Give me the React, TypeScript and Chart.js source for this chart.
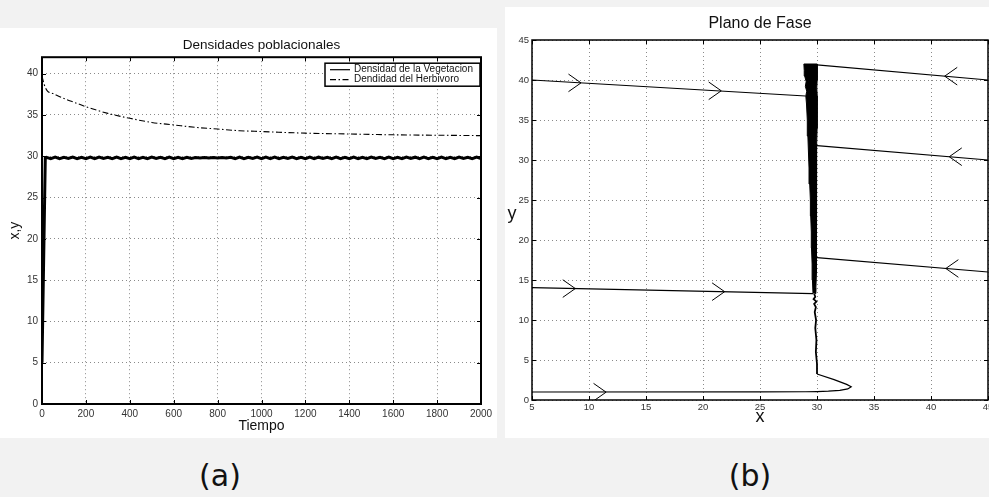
import React, { useEffect, useRef } from "react";
import { Chart, registerables } from "chart.js";

Chart.register(...registerables);

const FONT = "'Liberation Sans', Arial, sans-serif";

// ---------- Chart (a): Densidades poblacionales ----------
const timeTicks = [0, 200, 400, 600, 800, 1000, 1200, 1400, 1600, 1800, 2000];
const densityTicks = [0, 5, 10, 15, 20, 25, 30, 35, 40];

const herbTimes = [0, 10, 25, 50, 100, 150, 200, 300, 400, 500, 600, 700, 800, 900, 1000, 1200, 1400, 1600, 1800, 2000];
const herbValues = [39.7, 38.7, 37.9, 37.6, 37.0, 36.5, 36.0, 35.2, 34.6, 34.1, 33.8, 33.5, 33.3, 33.1, 33.0, 32.8, 32.7, 32.6, 32.55, 32.5];

const vegTimes = [
  0, 15,
  20, 40, 60, 80, 100, 120, 140, 160, 180, 200,
  220, 240, 260, 280, 300, 320, 340, 360, 380, 400,
  420, 440, 460, 480, 500, 520, 540, 560, 580, 600,
  620, 640, 660, 680, 700, 720, 740, 760, 780, 800,
  820, 840, 860, 880, 900, 920, 940, 960, 980, 1000,
  1020, 1040, 1060, 1080, 1100, 1120, 1140, 1160, 1180, 1200,
  1220, 1240, 1260, 1280, 1300, 1320, 1340, 1360, 1380, 1400,
  1420, 1440, 1460, 1480, 1500, 1520, 1540, 1560, 1580, 1600,
  1620, 1640, 1660, 1680, 1700, 1720, 1740, 1760, 1780, 1800,
  1820, 1840, 1860, 1880, 1900, 1920, 1940, 1960, 1980, 2000,
];
const vegValues = [
  5.0, 29.8,
  29.88, 29.72, 29.9, 29.7, 29.87, 29.73, 29.9, 29.71, 29.88, 29.72,
  29.89, 29.7, 29.9, 29.73, 29.88, 29.71, 29.9, 29.72, 29.87, 29.7,
  29.9, 29.72, 29.88, 29.7, 29.9, 29.73, 29.87, 29.71, 29.9, 29.72,
  29.88, 29.7, 29.87, 29.74, 29.85, 29.8, 29.86, 29.79, 29.85, 29.8,
  29.86, 29.79, 29.87, 29.72, 29.9, 29.7, 29.88, 29.73, 29.9, 29.71,
  29.89, 29.72, 29.9, 29.7, 29.88, 29.73, 29.9, 29.71, 29.88, 29.72,
  29.9, 29.7, 29.89, 29.73, 29.88, 29.71, 29.9, 29.72, 29.87, 29.7,
  29.9, 29.72, 29.88, 29.7, 29.9, 29.73, 29.87, 29.71, 29.9, 29.72,
  29.88, 29.7, 29.9, 29.73, 29.89, 29.71, 29.9, 29.72, 29.87, 29.7,
  29.9, 29.72, 29.88, 29.7, 29.9, 29.73, 29.87, 29.71, 29.9, 29.72,
];

// ---------- Chart (b): Plano de Fase ----------
const phaseXTicks = [5, 10, 15, 20, 25, 30, 35, 40, 45];
const phaseYTicks = [0, 5, 10, 15, 20, 25, 30, 35, 40, 45];

const traj1X = [5, 29.0];
const traj1Y = [40.0, 38.0];
const traj2X = [5, 29.65];
const traj2Y = [14.05, 13.3];
const traj3X = [5, 25, 29, 30, 31, 32, 32.7, 33, 32.6, 31.5, 30];
const traj3Y = [1.0, 1.02, 1.03, 1.05, 1.1, 1.2, 1.38, 1.65, 1.95, 2.55, 3.25];
const traj4X = [30.0, 45];
const traj4Y = [41.9, 40.0];
const traj5X = [30.0, 45];
const traj5Y = [31.8, 30.0];
const traj6X = [30.0, 45];
const traj6Y = [17.8, 16.0];

// oscillating band around the equilibrium x = 30 (outline: left edge up, right edge down)
const bandX = [
  29.65, 29.6, 29.57, 29.52, 29.5, 29.45, 29.42, 29.36, 29.3, 29.25, 29.2, 29.15, 29.08, 29.02, 29.1, 28.98, 29.05, 28.92, 28.88, 28.85,
  30.02, 30.0, 30.03, 29.98, 30.02, 30.0, 30.02, 29.97, 29.98, 29.96, 29.97, 29.95, 29.96, 29.94, 29.95, 29.92, 29.9, 29.88,
];
const bandY = [
  13.3, 15, 17, 19, 21, 23, 25, 27, 29, 31, 33, 35, 37, 38, 38.6, 39.2, 39.8, 40.5, 41.2, 42,
  42, 41, 40, 39, 38, 36, 34, 32, 30, 28, 26, 24, 22, 20, 18, 16, 14, 13.3,
];
// thin jagged stem below the band
const stemX = [29.75, 29.85, 29.7, 29.95, 29.75, 29.9, 29.8, 29.92, 29.85, 29.95, 29.9, 30.0, 30.0];
const stemY = [13.3, 12.9, 12.6, 12.3, 12.0, 11.6, 11.0, 10.0, 9.0, 7.5, 6.0, 4.5, 3.25];

// arrow tips (x, y) and direction (+1 = right, -1 = left)
const arrowX = [9.3, 21.6, 8.8, 21.9, 11.5, 41.2, 41.6, 41.3];
const arrowY = [39.64, 38.65, 13.93, 13.54, 0.98, 40.48, 30.41, 16.44];
const arrowDir = [1, 1, 1, 1, 1, -1, -1, -1];

const leftTitle = "Densidades poblacionales";
const rightTitle = "Plano de Fase";
const yLabelRight = "y";

// ---------- helpers ----------
const zip = (xs: number[], ys: number[]) => xs.map((x, i) => ({ x, y: ys[i] }));
const plainLabel = (v: any) => String(v);

const framePlugin = (frameWidth: number, tickLen: number) => ({
  id: "matlabFrame",
  afterDraw(chart: any) {
    const { ctx, chartArea: a } = chart;
    const xs = chart.scales.x;
    const ys = chart.scales.y;
    ctx.save();
    ctx.strokeStyle = "#000";
    ctx.lineWidth = 1;
    ctx.setLineDash([]);
    ctx.beginPath();
    xs.ticks.forEach((t: any) => {
      const px = Math.round(xs.getPixelForValue(t.value)) + 0.5;
      ctx.moveTo(px, a.top);
      ctx.lineTo(px, a.top + tickLen);
      ctx.moveTo(px, a.bottom);
      ctx.lineTo(px, a.bottom - tickLen);
    });
    ys.ticks.forEach((t: any) => {
      const py = Math.round(ys.getPixelForValue(t.value)) + 0.5;
      ctx.moveTo(a.left, py);
      ctx.lineTo(a.left + tickLen, py);
      ctx.moveTo(a.right, py);
      ctx.lineTo(a.right - tickLen, py);
    });
    ctx.stroke();
    ctx.lineWidth = frameWidth;
    ctx.strokeRect(a.left, a.top, a.right - a.left, a.bottom - a.top);
    ctx.restore();
  },
});

const boxLegendPlugin = {
  id: "boxLegend",
  afterDraw(chart: any) {
    const { ctx, chartArea: a } = chart;
    const w = 155;
    const h = 23;
    const x0 = a.right - w - 1;
    const y0 = a.top + 6;
    ctx.save();
    ctx.fillStyle = "#fff";
    ctx.fillRect(x0, y0, w, h);
    ctx.lineWidth = 1.5;
    ctx.strokeStyle = "#000";
    ctx.setLineDash([]);
    ctx.strokeRect(x0, y0, w, h);
    ctx.font = `10px ${FONT}`;
    ctx.textBaseline = "middle";
    ctx.textAlign = "left";
    chart.data.datasets.forEach((ds: any, i: number) => {
      const cy = y0 + 6.5 + i * 10;
      ctx.beginPath();
      ctx.setLineDash(ds.borderDash || []);
      ctx.lineWidth = 1.2;
      ctx.strokeStyle = ds.borderColor;
      ctx.moveTo(x0 + 5, cy);
      ctx.lineTo(x0 + 25, cy);
      ctx.stroke();
      ctx.setLineDash([]);
      ctx.fillStyle = "#111";
      ctx.fillText(ds.label, x0 + 29, cy);
    });
    ctx.restore();
  },
};

const uprightYLabelPlugin = {
  id: "uprightY",
  afterDraw(chart: any) {
    const { ctx, chartArea: a } = chart;
    ctx.save();
    ctx.font = `18px ${FONT}`;
    ctx.fillStyle = "#111";
    ctx.textAlign = "center";
    ctx.textBaseline = "middle";
    ctx.fillText(yLabelRight, 7, (a.top + a.bottom) / 2 - 6);
    ctx.restore();
  },
};

const gridStyle = { color: "#8a8a8a", lineWidth: 1, drawTicks: false };
const borderStyle = { display: false, dash: [1, 3] };

function LeftChart() {
  const ref = useRef<HTMLCanvasElement | null>(null);
  useEffect(() => {
    if (!ref.current) return;
    const chart = new Chart(ref.current, {
      type: "line",
      data: {
        datasets: [
          {
            label: "Densidad de la Vegetacion",
            data: zip(vegTimes, vegValues),
            borderColor: "#000",
            borderWidth: 3,
            pointRadius: 0,
            tension: 0,
          },
          {
            label: "Dendidad del Herbivoro",
            data: zip(herbTimes, herbValues),
            borderColor: "#000",
            borderWidth: 1.1,
            borderDash: [6, 2.5, 1.5, 2.5],
            pointRadius: 0,
            cubicInterpolationMode: "monotone",
          },
        ],
      } as any,
      options: {
        animation: false,
        responsive: false,
        events: [],
        layout: { padding: { left: 0, right: 16, top: 0, bottom: 0 } },
        plugins: {
          legend: { display: false },
          tooltip: { enabled: false },
          title: {
            display: true,
            text: leftTitle,
            fullSize: false,
            color: "#111",
            font: { family: FONT, size: 13.5, weight: "normal" },
            padding: { top: 9, bottom: 4 },
          },
        },
        scales: {
          x: {
            type: "linear",
            min: 0,
            max: 2000,
            afterBuildTicks: (s: any) => {
              s.ticks = timeTicks.map((v) => ({ value: v }));
            },
            afterFit: (s: any) => {
              s.height = 34;
            },
            grid: gridStyle,
            border: borderStyle,
            ticks: { font: { family: FONT, size: 10 }, color: "#333", padding: 4, maxRotation: 0, autoSkip: false, callback: plainLabel },
            title: { display: true, text: "Tiempo", color: "#111", font: { family: FONT, size: 14 }, padding: { top: 0, bottom: 3 } },
          },
          y: {
            type: "linear",
            min: 0,
            max: 42,
            afterBuildTicks: (s: any) => {
              s.ticks = densityTicks.map((v) => ({ value: v }));
            },
            afterFit: (s: any) => {
              s.width = 42;
            },
            grid: gridStyle,
            border: borderStyle,
            ticks: { font: { family: FONT, size: 10 }, color: "#333", padding: 4, autoSkip: false, callback: plainLabel },
            title: { display: true, text: "x,y", color: "#111", font: { family: FONT, size: 14 }, padding: { top: 6.6, bottom: 0 } },
          },
        },
      } as any,
      plugins: [framePlugin(2, 4), boxLegendPlugin],
    });
    return () => chart.destroy();
  }, []);
  return (
    <canvas
      ref={ref}
      width={497}
      height={410}
      style={{ position: "absolute", left: 0, top: 28, width: 497, height: 410, background: "#fff" }}
    />
  );
}

function RightChart() {
  const ref = useRef<HTMLCanvasElement | null>(null);
  useEffect(() => {
    if (!ref.current) return;
    const lineDs = (xs: number[], ys: number[], width = 1.2) => ({
      data: zip(xs, ys),
      showLine: true,
      borderColor: "#000",
      backgroundColor: "#000",
      borderWidth: width,
      pointRadius: 0,
      fill: false,
    });
    const arrowDatasets = arrowX.map((x, i) => {
      const dir = arrowDir[i];
      const armX = 1.1;
      const armY = 1.1;
      return lineDs(
        [x - dir * armX, x, x - dir * armX],
        [arrowY[i] + armY, arrowY[i], arrowY[i] - armY],
        1
      );
    });
    const chart = new Chart(ref.current, {
      type: "scatter",
      data: {
        datasets: [
          { ...lineDs(bandX, bandY, 1), fill: "shape" },
          lineDs(stemX, stemY, 1.8),
          lineDs(traj1X, traj1Y),
          lineDs(traj2X, traj2Y),
          lineDs(traj3X, traj3Y),
          lineDs(traj4X, traj4Y),
          lineDs(traj5X, traj5Y),
          lineDs(traj6X, traj6Y),
          ...arrowDatasets,
        ],
      } as any,
      options: {
        animation: false,
        responsive: false,
        events: [],
        layout: { padding: { left: 0, right: 20, top: 0, bottom: 0 } },
        plugins: {
          legend: { display: false },
          tooltip: { enabled: false },
          title: {
            display: true,
            text: rightTitle,
            fullSize: false,
            color: "#111",
            font: { family: FONT, size: 16, weight: "normal" },
            padding: { top: 7.4, bottom: 6.4 },
          },
        },
        scales: {
          x: {
            type: "linear",
            min: 5,
            max: 45,
            afterBuildTicks: (s: any) => {
              s.ticks = phaseXTicks.map((v) => ({ value: v }));
            },
            afterFit: (s: any) => {
              s.height = 38;
            },
            grid: gridStyle,
            border: borderStyle,
            ticks: { font: { family: FONT, size: 9.5 }, color: "#333", padding: 2, maxRotation: 0, autoSkip: false, callback: plainLabel },
            title: { display: true, text: "x", color: "#111", font: { family: FONT, size: 18 }, padding: { top: 0, bottom: 10.5 } },
          },
          y: {
            type: "linear",
            min: 0,
            max: 45,
            afterBuildTicks: (s: any) => {
              s.ticks = phaseYTicks.map((v) => ({ value: v }));
            },
            afterFit: (s: any) => {
              s.width = 27;
            },
            grid: gridStyle,
            border: borderStyle,
            ticks: { font: { family: FONT, size: 9.5 }, color: "#333", padding: 3, autoSkip: false, callback: plainLabel },
            title: { display: false },
          },
        },
      } as any,
      plugins: [framePlugin(1.5, 4), uprightYLabelPlugin],
    });
    return () => chart.destroy();
  }, []);
  return (
    <canvas
      ref={ref}
      width={503}
      height={431}
      style={{ position: "absolute", left: 505, top: 7, width: 503, height: 431, background: "#fff" }}
    />
  );
}

export default function App() {
  const captionStyle: React.CSSProperties = {
    position: "absolute",
    top: 456,
    width: 80,
    textAlign: "center",
    fontFamily: "'DejaVu Sans', sans-serif",
    fontSize: 30,
    lineHeight: "40px",
    color: "#111",
  };
  return (
    <div
      style={{
        position: "absolute",
        left: 0,
        top: 0,
        width: 989,
        height: 497,
        overflow: "hidden",
        background: "#f2f2f2",
      }}
    >
      <LeftChart />
      <RightChart />
      <div style={{ ...captionStyle, left: 180 }}>(a)</div>
      <div style={{ ...captionStyle, left: 710 }}>(b)</div>
    </div>
  );
}
